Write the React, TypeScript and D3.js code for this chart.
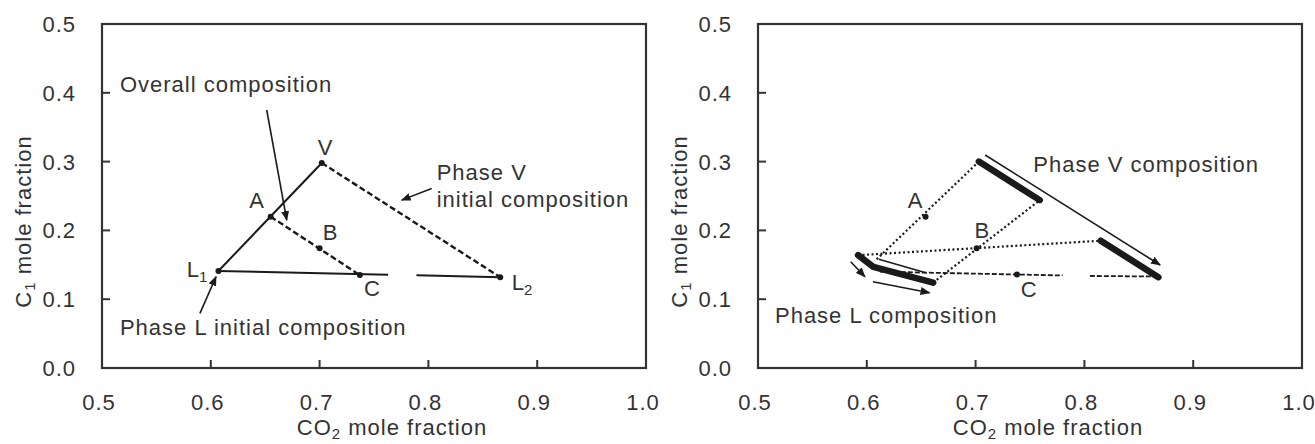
import React from "react";
import * as d3 from "d3";

const xTicks = [0.5, 0.6, 0.7, 0.8, 0.9, 1.0];
const yTicks = [0.0, 0.1, 0.2, 0.3, 0.4, 0.5];

// ---------- Left panel data ----------
const leftDotNames = ["L1", "A", "V", "B", "C", "L2"];
const leftDotX = [0.607, 0.655, 0.702, 0.7, 0.737, 0.866];
const leftDotY = [0.141, 0.22, 0.298, 0.174, 0.135, 0.132];

const leftSolidX = [[0.607, 0.702], [0.607, 0.763], [0.789, 0.866]];
const leftSolidY = [[0.141, 0.298], [0.141, 0.1356], [0.1347, 0.132]];
const leftDashedX = [[0.702, 0.866], [0.655, 0.737]];
const leftDashedY = [[0.298, 0.132], [0.22, 0.135]];

const leftArrowX = [[0.6514, 0.6698], [0.803, 0.7754], [0.59, 0.6048]];
const leftArrowY = [[0.375, 0.215], [0.261, 0.244], [0.0795, 0.1327]];

const leftTexts = ["Overall composition", "Phase V", "initial composition", "Phase L initial composition"];
const leftTextX = [0.5165, 0.8076, 0.8076, 0.5165];
const leftTextY = [0.401, 0.273, 0.234, 0.048];

const leftLetters = ["V", "A", "B", "C"];
const leftLetterX = [0.705, 0.642, 0.7096, 0.748];
const leftLetterY = [0.3096, 0.2326, 0.186, 0.1047];

const leftSubLabels = ["1", "2"];
const leftSubLabelX = [0.578, 0.8766];
const leftSubLabelY = [0.132, 0.113];

// ---------- Right panel data ----------
const rightDotNames = ["A", "B", "C"];
const rightDotX = [0.654, 0.701, 0.738];
const rightDotY = [0.22, 0.174, 0.136];

const rightThickX = [[0.592, 0.606, 0.661], [0.703, 0.759], [0.815, 0.868]];
const rightThickY = [[0.164, 0.147, 0.124], [0.3, 0.244], [0.185, 0.132]];

const rightDottedX = [[0.609, 0.703], [0.592, 0.815], [0.661, 0.759]];
const rightDottedY = [[0.158, 0.3], [0.164, 0.185], [0.124, 0.244]];

const rightDashDotX = [[0.612, 0.78], [0.805, 0.866]];
const rightDashDotY = [[0.14, 0.1345], [0.1338, 0.133]];

const rightThinX = [[0.611, 0.655]];
const rightThinY = [[0.158, 0.138]];

const rightArrowX = [[0.5852, 0.5983], [0.6056, 0.6577], [0.7088, 0.8696]];
const rightArrowY = [[0.1545, 0.1327], [0.1254, 0.1094], [0.3096, 0.1497]];

const rightTexts = ["Phase V composition", "Phase L composition"];
const rightTextX = [0.753, 0.5156];
const rightTextY = [0.285, 0.065];

const rightLetters = ["A", "B", "C"];
const rightLetterX = [0.6443, 0.7057, 0.7489];
const rightLetterY = [0.2326, 0.1885, 0.1036];

const W = 1315;
const H = 444;
const PLOT_W = 544;
const TOP = 24;
const BOTTOM = 368;
const FONT = "'Liberation Sans', Arial, Helvetica, sans-serif";
const TXT = "#333";
const INK = "#1a1a1a";
const FS = 22;
const LS = 1.0;
const SUB = 15;

function Axes({ x, y }) {
  const x0 = x.range()[0];
  const x1 = x.range()[1];
  return (
    <g>
      <rect x={x0} y={TOP} width={x1 - x0} height={BOTTOM - TOP} fill="none" stroke="#333" strokeWidth={2.2} />
      {xTicks.slice(1, -1).map((t) => (
        <line key={"xt" + t} x1={x(t)} x2={x(t)} y1={BOTTOM} y2={BOTTOM - 8} stroke="#333" strokeWidth={2} />
      ))}
      {yTicks.slice(1, -1).map((t) => (
        <line key={"yt" + t} x1={x0} x2={x0 + 8} y1={y(t)} y2={y(t)} stroke="#333" strokeWidth={2} />
      ))}
      {xTicks.map((t) => (
        <text key={"xl" + t} x={x(t) - 3} y={410} textAnchor="middle" fontSize={FS} letterSpacing={LS} fill={TXT}>
          {d3.format(".1f")(t)}
        </text>
      ))}
      {yTicks.map((t) => (
        <text key={"yl" + t} x={x0 - 26} y={y(t) + 8} textAnchor="end" fontSize={FS} letterSpacing={LS} fill={TXT}>
          {d3.format(".1f")(t)}
        </text>
      ))}
      <text x={(x0 + x1) / 2 + 18} y={435} textAnchor="middle" fontSize={FS} letterSpacing={LS} fill={TXT}>
        CO<tspan fontSize={SUB} dy={4}>2</tspan>
        <tspan dy={-4}> mole fraction</tspan>
      </text>
      <text
        transform={`translate(${x0 - 71},${221.5}) rotate(-90)`}
        textAnchor="middle"
        fontSize={FS}
        letterSpacing={LS}
        fill={TXT}
      >
        C<tspan fontSize={SUB} dy={4}>1</tspan>
        <tspan dy={-4}> mole fraction</tspan>
      </text>
    </g>
  );
}

function Lines({ xs, ys, x, y, ...props }) {
  return (
    <g>
      {xs.map((arr, k) => {
        const pts = arr.map((v, i) => [x(v), y(ys[k][i])] as [number, number]);
        const path = d3.line()(pts);
        return <path key={k} d={path || ""} fill="none" {...props} />;
      })}
    </g>
  );
}

function App() {
  const yScale = d3.scaleLinear().domain([0, 0.5]).range([BOTTOM, TOP]);
  const xL = d3.scaleLinear().domain([0.5, 1.0]).range([102, 102 + PLOT_W]);
  const xR = d3.scaleLinear().domain([0.5, 1.0]).range([758, 758 + PLOT_W]);

  return (
    <svg
      width={W}
      height={H}
      style={{ position: "absolute", left: 0, top: 0, background: "#fff" }}
      fontFamily={FONT}
    >
      <defs>
        <marker id="arr" viewBox="0 0 10 8" refX="9" refY="4" markerWidth="10" markerHeight="8" markerUnits="userSpaceOnUse" orient="auto">
          <path d="M0,0 L10,4 L0,8 z" fill={INK} />
        </marker>
      </defs>
      <rect x={0} y={0} width={W} height={H} fill="#fff" />

      {/* Left panel */}
      <Axes x={xL} y={yScale} />
      <Lines xs={leftSolidX} ys={leftSolidY} x={xL} y={yScale} stroke={INK} strokeWidth={2} />
      <Lines xs={leftDashedX} ys={leftDashedY} x={xL} y={yScale} stroke={INK} strokeWidth={2.4} strokeDasharray="6,3" />
      <Lines xs={leftArrowX} ys={leftArrowY} x={xL} y={yScale} stroke={INK} strokeWidth={1.6} markerEnd="url(#arr)" />
      {leftDotNames.map((n, i) => (
        <circle key={n} cx={xL(leftDotX[i])} cy={yScale(leftDotY[i])} r={3} fill={INK} />
      ))}
      {leftTexts.map((t, i) => (
        <text key={t} x={xL(leftTextX[i])} y={yScale(leftTextY[i])} fontSize={FS} letterSpacing={LS} fill={TXT}>
          {t}
        </text>
      ))}
      {leftLetters.map((t, i) => (
        <text key={t} x={xL(leftLetterX[i])} y={yScale(leftLetterY[i])} textAnchor="middle" fontSize={FS} fill={TXT}>
          {t}
        </text>
      ))}
      {leftSubLabels.map((s, i) => (
        <text key={s} x={xL(leftSubLabelX[i])} y={yScale(leftSubLabelY[i])} fontSize={FS} fill={TXT}>
          L<tspan fontSize={SUB} dy={5}>{s}</tspan>
        </text>
      ))}

      {/* Right panel */}
      <Axes x={xR} y={yScale} />
      <Lines xs={rightDottedX} ys={rightDottedY} x={xR} y={yScale} stroke={INK} strokeWidth={2.2} strokeDasharray="2,2.5" />
      <Lines xs={rightDashDotX} ys={rightDashDotY} x={xR} y={yScale} stroke={INK} strokeWidth={1.8} strokeDasharray="5,2" />
      <Lines xs={rightThinX} ys={rightThinY} x={xR} y={yScale} stroke={INK} strokeWidth={1.6} />
      <Lines xs={rightThickX} ys={rightThickY} x={xR} y={yScale} stroke={INK} strokeWidth={6.5} strokeLinecap="round" strokeLinejoin="round" />
      <Lines xs={rightArrowX} ys={rightArrowY} x={xR} y={yScale} stroke={INK} strokeWidth={1.6} markerEnd="url(#arr)" />
      {rightDotNames.map((n, i) => (
        <circle key={n} cx={xR(rightDotX[i])} cy={yScale(rightDotY[i])} r={3} fill={INK} />
      ))}
      {rightTexts.map((t, i) => (
        <text key={t} x={xR(rightTextX[i])} y={yScale(rightTextY[i])} fontSize={FS} letterSpacing={LS} fill={TXT}>
          {t}
        </text>
      ))}
      {rightLetters.map((t, i) => (
        <text key={t} x={xR(rightLetterX[i])} y={yScale(rightLetterY[i])} textAnchor="middle" fontSize={FS} fill={TXT}>
          {t}
        </text>
      ))}
    </svg>
  );
}

export default App;
